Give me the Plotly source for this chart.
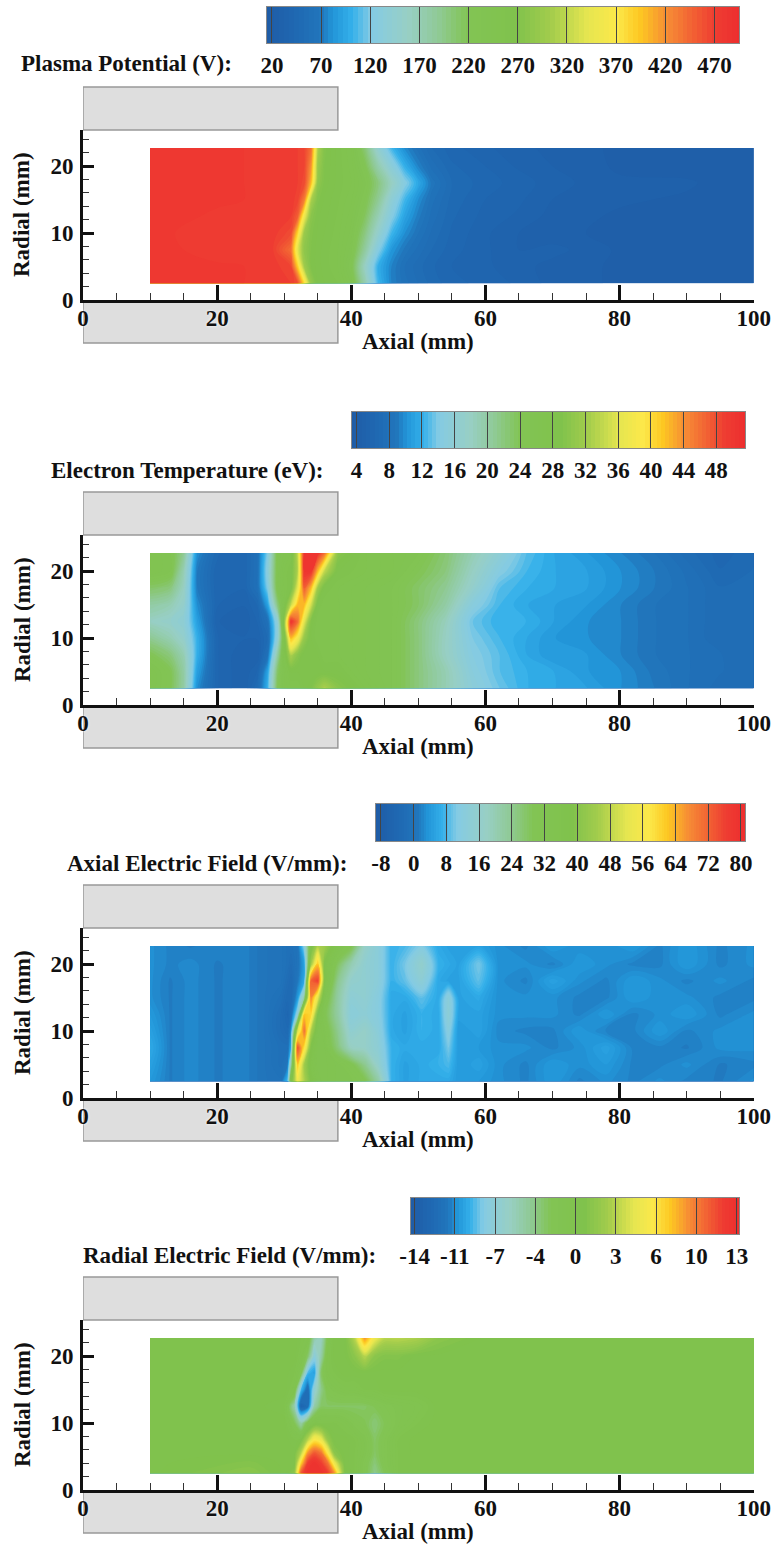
import numpy as np
import plotly.graph_objects as go

W, H = 774, 1547

RADIAL_A = [2.5, 5, 7.5, 10, 12.5, 15, 17.5, 20, 22.7]
RADIAL_B = [2.5, 4, 5.5, 7.5, 10, 12.5, 15, 17.5, 20, 22.7]

AXIAL_1 = [10,20,28,31,32,33,34,35,36,38,40,42,44,46,48,50,52,55,60,65,70,80,90,100]
PLASMA = [
 [478,476,474,470,460,380,290,265,260,255,235,175,105,75,62,55,48,42,38,34,28,24,22,20],
 [478,476,474,465,390,300,270,262,258,250,225,160,100,75,60,52,46,40,36,32,28,24,22,20],
 [478,472,474,440,340,285,270,262,258,250,232,185,125,85,68,58,50,42,36,30,32,24,22,20],
 [478,470,474,462,385,295,272,264,260,252,238,200,150,105,80,65,54,44,36,30,26,24,22,20],
 [478,474,474,470,450,350,280,266,262,254,242,215,170,125,92,72,58,46,38,34,28,24,22,20],
 [478,476,474,472,468,430,310,272,264,256,246,225,190,140,105,80,62,48,40,36,30,26,24,20],
 [478,476,474,472,470,462,400,285,268,258,250,232,200,160,125,95,68,50,42,38,32,26,26,20],
 [478,476,474,472,470,465,420,295,270,258,248,222,175,135,100,75,58,46,40,34,30,24,22,20],
 [478,476,474,472,470,465,440,310,272,258,245,205,145,105,78,62,50,42,36,32,28,24,22,20],
]

AXIAL_2 = [10,13,15,17,20,24,26,27.5,29,30,31,32,33,34,35,36,38,42,46,50,54,58,62,66,70,75,80,85,90,95,100]
TEMPERATURE = [
 [26,24,20,10,6,5,7,12,24,26,27,27,28,29,31,33,30,27,25,22,19,15.5,13.5,12,11.5,11,10,9,8,7.2,7],
 [26,24,20,11,6,5,6,11,23,26,28,28,28,28,28,28,28,26,25,22,19,15,13,12,11.5,10.5,10,8.8,8,7.5,7],
 [24,22,19,12,6,5,5,8,20,27,33,30,28,28,28,27,27,26,25,22,18,14.5,13,11.5,10.5,10.5,9.5,8.5,8,7.5,7],
 [21,19,17,12,6,5.5,5.5,7,16,27,42,38,31,28,27,27,27,26,25,22,18,14,12.5,11.5,10.5,10,9.5,8.5,8,7,7],
 [18,17,16,11,5.5,5,6,8,16,30,50,46,36,29,27,27,27,26,25,22,18.5,13.5,12,12,11,10,9.5,8.5,8,7,7],
 [20,19,17,10,6,5.5,6.5,11,22,27,34,42,42,35,28,27,27,26,25,23,20,15,12.5,11.5,11,10.5,9.5,8.5,8,7,7],
 [23,22,18,9,6,6,8,14,25,27,28,36,47,42,32,28,27,26,25,23,21,17,13,12,11.5,11,10,9,8,7,7],
 [26,25,19,9,6,6,8,15,25,27,28,33,50,50,42,34,28,27,26,24,22,18,14.5,12.5,11.5,11,10,9,7.8,6.5,7],
 [26,25,21,10,6.5,6,8,14,25,26,27,34,50,50,50,46,30,27,26,25,22.5,19,16,13,11.5,10.5,9.5,8.5,7.2,6.2,6.8],
]

AXIAL_3 = [10,13,16,20,24,27,29.5,30.5,31,32,33,34,35,36,38,40,42,44,46,48,50.5,53,54.5,56,59,62,66,70,74,78,82,86,90,95,100]
AXIAL_FIELD = [
 [4,1.5,2.5,1.5,2,0.5,0,8,36,54,46,38,34,33,32,32,30,22,7,5,6,6,6,4,4,3,2,4,2,3,2,3,2,1.5,3],
 [5,1.5,2.5,1.5,2,0.5,-1,1,20,62,44,36,33,33,32,30,24,16,7,5,6,7,8,4,5,3,2,4,3,4,2,2,3,1.5,2],
 [6,1.5,2.5,1.5,2,0.5,-1,-1,6,74,58,38,33,33,26,18,17,14,7,6,6,6,10,4,4,3,3,2,3,5,2,2,1.5,3,3],
 [5,1.5,2.5,1.5,2,0.5,-2,-3,3,50,70,46,34,32,24,15,17,13,6,5,7,6,12,4,5,2.5,2,2,4,2,2,4,2,3,3],
 [4,1.5,2.5,1.5,2,0.5,-2,-4,-2,14,62,60,38,30,22,13,14,12,6,5,7,6,14,5,5,3,3,3,2,4,2,3,4,2,3],
 [3,1.5,2.5,1.5,2,0.5,-1,-3,-3,4,22,68,52,33,22,14,15,12,6,6,9,6,13,5,6,3,3,3,2,2,4,3,3,2,2],
 [3,1.5,2.5,1.5,2,0.5,0,-2,-3,1,6,72,76,38,24,16,15,13,7,9,14,6,5,5,9,3,2,5,3,2,4,3,2,3,2],
 [3,2,2.5,1.5,2,0.5,0,-1,-2,0,5,44,62,38,28,20,15,13,7,10,16,7,6,5,10,3,3,2,4,3,2,2,4,2,3],
 [3,2,1.5,2,2,0.5,0,-1,-1,0,12,36,46,44,34,30,17,13,7,8,11,6,5,5,5,3,2,4,3,3,4,2,4,2,3],
]

AXIAL_4 = [10,25,30,31.5,32.5,33.5,34.5,35.5,36.5,37.5,39,40.5,42,43.5,45,47,50,53,60,100]
RADIAL_FIELD = [
 [0,1,0,1,11,13,13,13,12,9,0.5,-0.5,-2,-4,-2.5,-0.5,0,0,0,0],
 [0,0.5,0,0,7,12,13,12,10,5,0,-0.5,-2,-3.5,-2,-0.5,0,0,0,0],
 [0,0,0,0,3,9,11,10,6,1,0,-0.5,-1.5,-3,-2,-0.5,0,0,0,0],
 [0,0,0,-0.5,0,3,6,5,1.5,0,0,-0.5,-1.5,-3,-2,-0.5,0,0,0,0],
 [0,0,0,-2.5,-5,-2,-0.5,-0.5,-0.5,-0.5,-1,-2,-2.5,-3.5,-2.5,-1.5,-0.5,0,0,0],
 [0,0,-0.5,-5,-13,-12,-5,-3,-3,-3,-3,-3,-3,-2.5,-2,-1.5,-1,0,0,0],
 [0,0,0,-1,-9,-12,-7,-4,-2,-1.5,-1,-1,-0.5,-0.5,0,0,0,0,0,0],
 [0,0,0,-0.5,-2,-9,-10,-3,-1,-0.5,0,0,0,0,0,0,0,0,0,0],
 [0,0,0,0,-1,-3,-7.5,-5,-1,0,0,1,3,1,0.5,0.5,0,0,0,0],
 [0,0,0,0,-0.5,-1,-5,-6,-2,0,0,3,9,5,3,3,2.5,1,0,0],
]

TICKS_1 = [20,70,120,170,220,270,320,370,420,470]
TICKS_2 = [4,8,12,16,20,24,28,32,36,40,44,48]
TICKS_3 = [-8,0,8,16,24,32,40,48,56,64,72,80]
TICKS_4 = [-14,-10.6,-7.2,-3.8,-0.4,3,6.4,9.8,13.2]
LABELS_4 = ["-14","-11","-7","-4","0","3","6","10","13"]

COLORSCALE = [
 [0.00,"#1f5ca6"],[0.06,"#1f68b2"],[0.114,"#2176bc"],[0.14,"#2295d8"],[0.18,"#34b0ea"],
 [0.22,"#84cbe4"],[0.30,"#98cfc4"],[0.36,"#90ca98"],[0.426,"#82c454"],[0.53,"#80c24c"],
 [0.60,"#a2cc4c"],[0.68,"#e6e650"],[0.74,"#fce84a"],[0.79,"#fdc822"],[0.85,"#f68a35"],
 [0.95,"#ee3c32"],[1.00,"#ed2e2e"],
]

PANELS = [
 dict(name="Plasma Potential (V):", x=AXIAL_1, r=RADIAL_A, z=PLASMA, vmin=15, vmax=495, step=5,
      ticks=TICKS_1, labels=[str(t) for t in TICKS_1], y0=300, bar=(267,739,7,43), tx=234, ty=64),
 dict(name="Electron Temperature (eV):", x=AXIAL_2, r=RADIAL_A, z=TEMPERATURE, vmin=3.45, vmax=51.5, step=0.5,
      ticks=TICKS_2, labels=[str(t) for t in TICKS_2], y0=705, bar=(352,745,412,448), tx=326, ty=470),
 dict(name="Axial Electric Field (V/mm):", x=AXIAL_3, r=RADIAL_A, z=AXIAL_FIELD, vmin=-9.2, vmax=81, step=0.6,
      ticks=TICKS_3, labels=[str(t) for t in TICKS_3], y0=1098, bar=(376,745,804,841), tx=349, ty=863),
 dict(name="Radial Electric Field (V/mm):", x=AXIAL_4, r=RADIAL_B, z=RADIAL_FIELD, vmin=-14.3, vmax=13.4, step=0.3,
      ticks=TICKS_4, labels=LABELS_4, y0=1490, bar=(411,739,1198,1234), tx=378, ty=1255),
]

FONT = "Liberation Serif"
TICK_SIZE = 23
X0_PX, X1_PX = 83, 753.7
Y_SPAN_PX = 170
YMAX = 25.4

def fx(p): return p / W
def fy(p): return 1 - p / H
def axis_id(letter, n): return letter if n == 1 else f"{letter}{n}"

fig = go.Figure()
layout = dict(
    width=W, height=H, margin=dict(l=0, r=0, t=0, b=0, pad=0), autosize=False,
    paper_bgcolor="white", plot_bgcolor="rgba(0,0,0,0)", showlegend=False,
)
shapes, annotations = [], []
tfont = dict(family=FONT, size=TICK_SIZE, color="#111", weight=700)

for i, p in enumerate(PANELS):
    a = 2 * i + 1
    b = 2 * i + 2
    xa, ya = axis_id("x", a), axis_id("y", a)
    xb, yb = axis_id("x", b), axis_id("y", b)
    y0 = p["y0"]
    fig.add_trace(go.Contour(
        x=p["x"], y=p["r"], z=p["z"], xaxis=xa, yaxis=ya,
        colorscale=COLORSCALE, zmin=p["vmin"], zmax=p["vmax"], showscale=False,
        contours=dict(coloring="fill", start=p["vmin"], end=p["vmax"], size=p["step"], showlines=False),
        line=dict(width=0), hoverinfo="skip",
    ))
    layout[f"xaxis{a}"] = dict(
        domain=[fx(X0_PX), fx(X1_PX)], range=[0, 100], anchor=ya, automargin=False,
        tickmode="array", tickvals=[0,20,40,60,80,100], ticks="inside", ticklen=15, tickwidth=3,
        tickcolor="#111", showline=True, linewidth=3, linecolor="#111", showgrid=False, zeroline=False,
        tickfont=dict(tfont, shadow="0px 0px 3px white"), ticklabelstandoff=-5,
        minor=dict(tickmode="array", tickvals=[5,10,15,25,30,35,45,50,55,65,70,75,85,90,95],
                   ticks="inside", ticklen=7, tickwidth=1, tickcolor="#333", showgrid=False),
    )
    layout[f"yaxis{a}"] = dict(
        domain=[fy(y0), fy(y0 - Y_SPAN_PX)], range=[0, YMAX], anchor=xa, automargin=False,
        tickmode="array", tickvals=[0,10,20], ticks="inside", ticklen=11, tickwidth=3,
        tickcolor="#111", showline=True, linewidth=3, linecolor="#111", showgrid=False, zeroline=False,
        tickfont=tfont, ticklabelstandoff=2,
        minor=dict(tickmode="array", tickvals=[2,4,6,8,12,14,16,18,22,24],
                   ticks="inside", ticklen=6, tickwidth=1, tickcolor="#333", showgrid=False),
    )
    # colour bar
    x_l, x_r, y_t, y_b = p["bar"]
    levels = np.arange(p["vmin"], p["vmax"] + p["step"], p["step"])
    fig.add_trace(go.Heatmap(
        x=levels, y=[0, 1], z=[levels, levels], xaxis=xb, yaxis=yb,
        colorscale=COLORSCALE, zmin=p["vmin"], zmax=p["vmax"], showscale=False, hoverinfo="skip",
    ))
    layout[f"xaxis{b}"] = dict(
        domain=[fx(x_l), fx(x_r)], range=[p["vmin"], p["vmax"]], anchor=yb, automargin=False,
        tickmode="array", tickvals=p["ticks"], ticktext=p["labels"], ticks="inside",
        ticklen=y_b - y_t, tickwidth=1, tickcolor="#444", showline=True, linewidth=1, linecolor="#888",
        mirror=True, showgrid=False, zeroline=False, tickfont=tfont, ticklabelstandoff=1,
    )
    layout[f"yaxis{b}"] = dict(
        domain=[fy(y_b), fy(y_t)], range=[0, 1], anchor=xb, showticklabels=False, ticks="", automargin=False,
        showline=True, linewidth=1, linecolor="#888", mirror=True, showgrid=False, zeroline=False,
    )
    # electrodes
    for top, bot in ((y0 - 213, y0 - 170), (y0 + 2, y0 + 43)):
        shapes.append(dict(
            type="rect", xref=xa, yref=f"{ya} domain", x0=0, x1=38,
            y0=(y0 - bot) / Y_SPAN_PX, y1=(y0 - top) / Y_SPAN_PX,
            fillcolor="#dedede", line=dict(color="#999", width=1.5), layer="below",
        ))
    base = dict(xref="paper", yref="paper", showarrow=False, font=tfont)
    annotations.append(dict(base, text=p["name"], x=fx(p["tx"]), y=fy(p["ty"]), xanchor="right", yanchor="middle"))
    annotations.append(dict(base, text="Axial (mm)", x=fx(418.5), y=fy(y0 + 41), xanchor="center", yanchor="middle"))
    annotations.append(dict(base, text="Radial (mm)", x=fx(22), y=fy(y0 - 85), xanchor="center", yanchor="middle", textangle=-90))

layout["shapes"] = shapes
layout["annotations"] = annotations
fig.update_layout(**layout)
fig.write_html("out.html", config=dict(displayModeBar=False),
               post_script="document.body.style.margin='0';document.body.style.overflow='hidden';")
